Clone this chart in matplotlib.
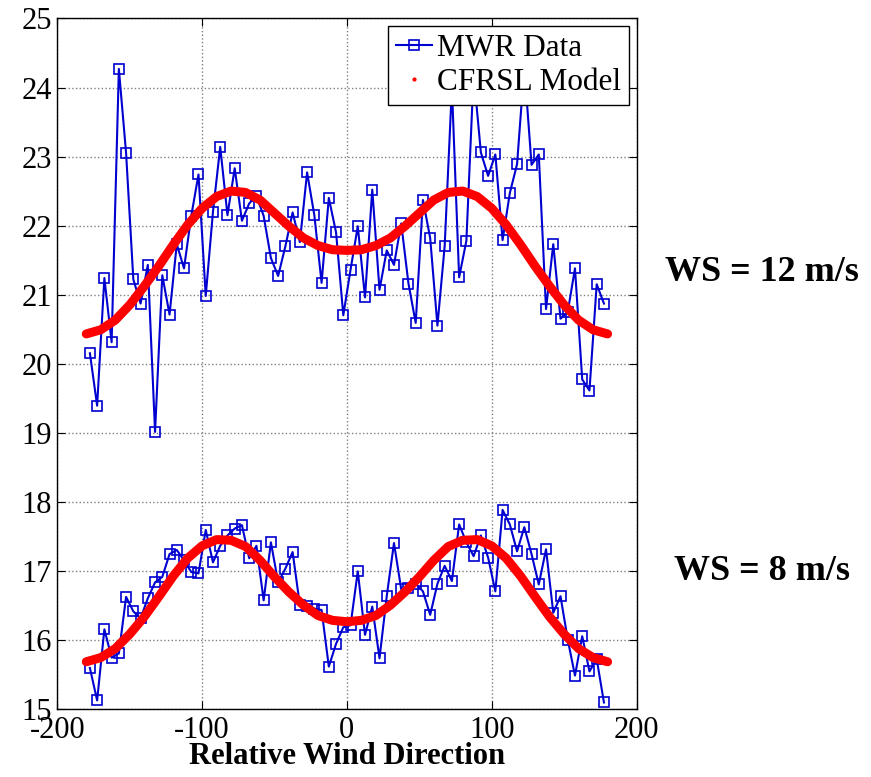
import numpy as np
import matplotlib
matplotlib.use("Agg")
import matplotlib.pyplot as plt
from matplotlib.lines import Line2D

plt.rcParams['font.family'] = ['Liberation Serif', 'DejaVu Serif']
plt.rcParams['axes.unicode_minus'] = False

# relative wind direction of the MWR bins (5 deg bins)
direction = np.arange(-177.5, 180, 5)

# MWR brightness temperature, WS = 12 m/s
mwr_12 = [20.15, 19.39, 21.24, 20.31, 24.27, 23.05, 21.22, 20.87, 21.43, 19.01,
          21.28, 20.71, 21.73, 21.38, 22.14, 22.74, 20.98, 22.20, 23.14, 22.15,
          22.83, 22.07, 22.32, 22.43, 22.14, 21.53, 21.27, 21.70, 22.19, 21.76,
          22.77, 22.15, 21.17, 22.40, 21.90, 20.70, 21.36, 21.99, 20.96, 22.52,
          21.07, 21.64, 21.43, 22.03, 21.16, 20.59, 22.37, 21.82, 20.55, 21.70,
          24.00, 21.25, 21.78, 24.20, 23.06, 22.72, 23.03, 21.79, 22.47, 22.89,
          24.30, 22.88, 23.03, 20.79, 21.73, 20.65, 20.75, 21.38, 19.77, 19.61,
          21.15, 20.87]

# MWR brightness temperature, WS = 8 m/s
mwr_8 = [15.59, 15.12, 16.15, 15.74, 15.80, 16.62, 16.41, 16.31, 16.60, 16.83,
         16.91, 17.24, 17.30, 17.15, 16.98, 16.96, 17.59, 17.12, 17.36, 17.51,
         17.61, 17.66, 17.18, 17.36, 16.57, 17.41, 16.83, 17.03, 17.27, 16.50,
         16.49, 16.45, 16.43, 15.61, 15.94, 16.18, 16.21, 16.99, 16.07, 16.48,
         15.73, 16.63, 17.40, 16.73, 16.75, 16.81, 16.70, 16.36, 16.81, 17.07,
         16.85, 17.67, 17.41, 17.21, 17.51, 17.19, 16.70, 17.88, 17.67, 17.28,
         17.63, 17.24, 16.80, 17.31, 16.39, 16.63, 16.00, 15.48, 16.05, 15.54,
         15.72, 15.09]

# CFRSL model, read every 10 deg
model_dir = np.arange(-180, 181, 10)
model_12 = [20.43, 20.49, 20.63, 20.85, 21.12, 21.41, 21.72, 22.01, 22.25, 22.42,
            22.50, 22.48, 22.37, 22.18, 21.99, 21.82, 21.71, 21.65, 21.64,
            21.65, 21.71, 21.82, 21.99, 22.18, 22.37, 22.48, 22.50, 22.42, 22.25,
            22.01, 21.72, 21.41, 21.12, 20.85, 20.63, 20.49, 20.43]
model_8 = [15.68, 15.74, 15.87, 16.08, 16.33, 16.62, 16.92, 17.18, 17.36, 17.45,
           17.44, 17.35, 17.15, 16.91, 16.69, 16.50, 16.35, 16.28, 16.26,
           16.28, 16.35, 16.50, 16.69, 16.91, 17.15, 17.35, 17.44, 17.45, 17.36,
           17.18, 16.92, 16.62, 16.33, 16.08, 15.87, 15.74, 15.68]

fig = plt.figure(figsize=(8.71, 7.77), dpi=100)
ax = fig.add_axes([0.0658, 0.0879, 0.665, 0.8883])

blue = '#0000d0'
for mwr in (mwr_12, mwr_8):
    ax.plot(direction, mwr, '-s', color=blue, lw=1.5, ms=6.5,
            mfc='none', mec=blue, mew=1.2, zorder=3)
for model in (model_12, model_8):
    ax.plot(model_dir, model, '-', color='red', lw=6.5, solid_capstyle='round',
            zorder=4)

ax.set_xlim(-200, 200)
ax.set_ylim(15, 25)
ax.set_xticks([-200, -100, 0, 100, 200])
ax.set_yticks(range(15, 26))
ax.grid(True, linestyle=':', color='#808080', lw=1)
ax.tick_params(direction='in', top=True, right=True, labelsize=22, length=6)
ax.tick_params(axis='x', pad=5)
ax.tick_params(axis='y', pad=4)
for s in ax.spines.values():
    s.set_linewidth(1)

ax.set_xlabel('Relative Wind Direction', fontsize=22, fontweight='bold',
              labelpad=-2)

handles = [
    Line2D([], [], color=blue, lw=1.5, marker='s', ms=6.5, mfc='none',
           mec=blue, mew=1.2),
    Line2D([], [], color='red', lw=0, marker='.', ms=4),
]
leg = ax.legend(handles, ['MWR Data', 'CFRSL Model'], loc='upper right',
                fontsize=22.5, fancybox=False, framealpha=1, edgecolor='black',
                borderpad=0.25, labelspacing=0.15, handlelength=1.15,
                handletextpad=0.15, borderaxespad=0.25)
leg.get_frame().set_linewidth(1)
leg.set_zorder(10)

fig.text(0.875, 1 - 272 / 777, 'WS = 12 m/s', fontsize=26, fontweight='bold',
         ha='center', va='center')
fig.text(0.875, 1 - 572 / 777, 'WS = 8 m/s', fontsize=26, fontweight='bold',
         ha='center', va='center')

fig.savefig('out.png', dpi=100)
